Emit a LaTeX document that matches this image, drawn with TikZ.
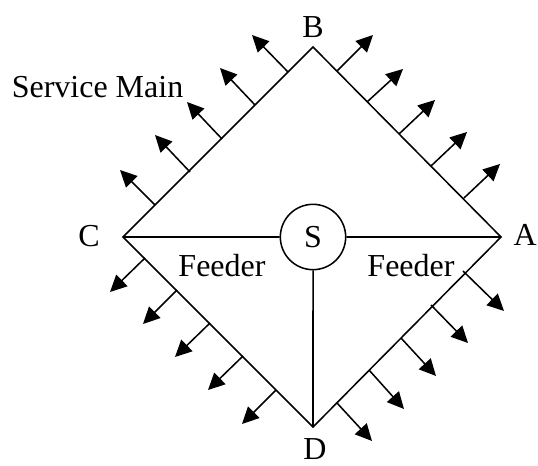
\documentclass[tikz,border=0pt]{standalone}
\usepackage{fontspec}
\setmainfont{Liberation Serif}
\usetikzlibrary{arrows.meta}
\tikzset{lbl/.style={inner sep=0pt,font=\fontsize{24}{26}\selectfont},
main/.style={line width=1.15pt},
svc/.style={line width=1.15pt,-{Triangle[length=12.5pt,width=12pt]}}}
\begin{document}
\begin{tikzpicture}[x=1pt,y=-1pt]
\useasboundingbox (0,0) rectangle (403.5,349.5);
\begin{scope}[scale=0.75]
\coordinate (A) at (501,237);
\coordinate (B) at (313,47);
\coordinate (C) at (123,237);
\coordinate (D) at (313,427);
\node[draw,circle,main,minimum size=49pt,inner sep=0pt,font=\fontsize{24}{26}\selectfont,fill=white] (S) at (313,237) {S};
\draw[main] (A)--(B)--(C)--(D)--cycle;
\draw[main] (C)--(S) (S)--(A) (S)--(D);
\foreach \x/\y/\u/\v in {
288/72/252/35, 255/105/220/68, 222/139/187/102, 190/172/155/135, 155/205/120/170,
337/71/373/35, 367/102/403/69, 399/134/435/100, 431/166/467/132, 464/198/500/164}
 \draw[svc] (\x,\y)--(\u,\v);
\foreach \x/\y/\u/\v in {
145/258/110/292, 177/290/143/324, 210/323/175/357, 243/356/208/390, 276/390/242/424}
 \draw[svc] (\x,\y)--(\u,\v);
\foreach \x/\y/\u/\v in {
463/271/504/311, 431/305/468/343, 401/338/436/376, 369/370/404/409, 337/403/372/441}
 \draw[svc] (\x,\y)--(\u,\v);
\node[lbl] (lB) at (313,27) {B};
\node[lbl] (lC) at (89,236) {C};
\node[lbl,anchor=east] (lA) at (537,235) {A};
\node[lbl] (lD) at (315,449) {D};
\node[lbl] (sm) at (97.5,87) {Service Main};
\node[lbl] (f1) at (222,266) {Feeder};
\node[lbl] (f2) at (411,266) {Feeder};
\end{scope}
\end{tikzpicture}
\end{document}
